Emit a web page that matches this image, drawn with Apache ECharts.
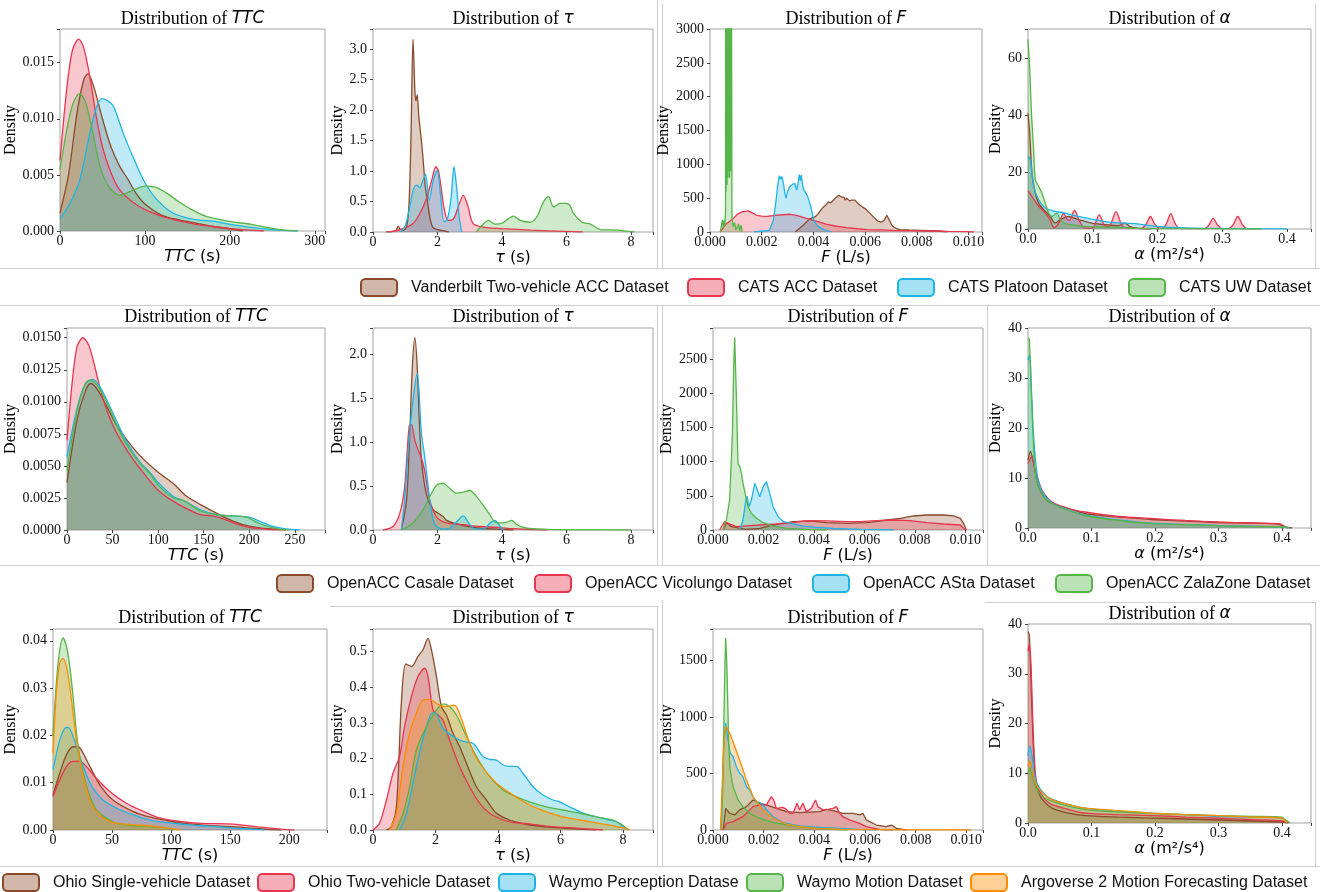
<!DOCTYPE html>
<html>
<head>
<meta charset="utf-8">
<script src="https://cdn.jsdelivr.net/npm/echarts@6.0.0/dist/echarts.min.js"></script>
<style>
  html, body { margin: 0; padding: 0; background: #fff; }
  #chart { width: 1325px; height: 892px; }
</style>
</head>
<body>
<div id="chart"></div>
<script>
// ---- dataset names per row (legend order) ----
const row1Names = ['Vanderbilt Two-vehicle ACC Dataset', 'CATS ACC Dataset', 'CATS Platoon Dataset', 'CATS UW Dataset']
const row2Names = ['OpenACC Casale Dataset', 'OpenACC Vicolungo Dataset', 'OpenACC ASta Dataset', 'OpenACC ZalaZone Dataset']
const row3Names = ['Ohio Single-vehicle Dataset', 'Ohio Two-vehicle Dataset', 'Waymo Perception Datase', 'Waymo Motion Dataset', 'Argoverse 2 Motion Forecasting Dataset']

// ---- row 1: Vanderbilt / CATS ----
const vandTTC = [[0,0.0016],[10,0.005],[20,0.0105],[28,0.0135],[33,0.0140],[40,0.0128],[50,0.0100],[60,0.0075],[70,0.0058],[80,0.0046],[90,0.0033],[100,0.0024],[120,0.0014],[140,0.0010],[160,0.0007],[180,0.0004],[200,0.0002],[215,0]]
const catsAccTTC = [[0,0.0063],[5,0.0105],[10,0.0140],[15,0.0162],[22,0.0171],[28,0.0163],[35,0.0138],[42,0.0105],[50,0.0075],[60,0.0052],[70,0.0037],[85,0.0026],[100,0.0019],[120,0.0013],[140,0.0009],[160,0.0006],[180,0.0004],[200,0.0002],[220,0.0001],[240,0]]
const catsPlatTTC = [[0,0.0011],[12,0.0025],[23.5,0.0046],[35,0.0087],[42,0.0108],[49,0.0118],[56,0.0116],[63,0.0111],[74.5,0.0087],[86,0.0066],[100,0.0043],[114,0.0028],[133,0.0016],[157,0.00104],[184,0.00084],[204,0.00054],[235,0.00024],[267,0.00003],[280,0]]
const catsUwTTC = [[0,0.0055],[8,0.0090],[15,0.0113],[23,0.01225],[30,0.0115],[38,0.0090],[47,0.0058],[57,0.0040],[70,0.0032],[85,0.0036],[100,0.0040],[112,0.0039],[125,0.0034],[140,0.0026],[155,0.0019],[172,0.0013],[190,0.0010],[205,0.0008],[225,0.0006],[245,0.0003],[262,0.0001],[280,0]]

const vandTau = [[0.4,0],[0.7,0.02],[0.78,0.09],[0.85,0.04],[0.95,0.03],[1.05,0.1],[1.12,0.5],[1.18,1.6],[1.24,3.16],[1.3,2.3],[1.33,2.15],[1.37,2.25],[1.42,1.9],[1.5,1.5],[1.56,1.15],[1.62,0.75],[1.69,0.5],[1.76,0.25],[1.85,0.08],[2.0,0.04],[2.2,0.02],[2.35,0]]
const catsAccTau = [[0.5,0],[0.9,0.05],[1.24,0.14],[1.45,0.3],[1.66,0.55],[1.82,0.85],[1.95,1.07],[2.03,1.0],[2.12,0.7],[2.2,0.4],[2.33,0.19],[2.5,0.22],[2.64,0.41],[2.8,0.6],[2.95,0.41],[3.1,0.14],[3.4,0.08],[4.0,0.055],[4.9,0.03],[5.9,0.01],[6.5,0]]
const catsPlatTau = [[0.85,0],[1.0,0.1],[1.14,0.41],[1.25,0.7],[1.35,0.77],[1.45,0.73],[1.55,0.85],[1.63,0.95],[1.74,0.52],[1.87,0.85],[1.99,1.01],[2.09,0.63],[2.2,0.17],[2.3,0.2],[2.42,0.55],[2.51,1.07],[2.59,0.74],[2.67,0.25],[2.75,0]]
const catsUwTau = [[3.2,0],[3.4,0.12],[3.58,0.19],[3.78,0.13],[3.99,0.14],[4.2,0.22],[4.35,0.26],[4.56,0.19],[4.87,0.16],[5.08,0.25],[5.28,0.49],[5.44,0.58],[5.6,0.41],[5.8,0.47],[6.0,0.47],[6.1,0.44],[6.22,0.3],[6.48,0.16],[6.74,0.13],[7.05,0.04],[7.56,0.03],[8.1,0]]

const vandF = [[0.0033,0],[0.0036,99],[0.00387,198],[0.00406,222],[0.00419,272],[0.0043,330],[0.00439,371],[0.00448,400],[0.00458,445],[0.00467,430],[0.00477,470],[0.00484,500],[0.0049,519],[0.00497,540],[0.00503,568],[0.00509,520],[0.00514,494],[0.00519,510],[0.00523,470],[0.00529,500],[0.00535,494],[0.0054,460],[0.00548,470],[0.00555,490],[0.00561,470],[0.0057,430],[0.00581,395],[0.0059,370],[0.006,346],[0.0061,310],[0.0062,272],[0.0063,230],[0.00639,198],[0.00648,165],[0.00658,148],[0.00666,150],[0.00674,173],[0.00684,247],[0.00694,173],[0.00702,110],[0.0071,74],[0.00722,50],[0.00735,35],[0.0077,30],[0.00813,25],[0.0089,15],[0.00916,0]]
const catsAccF = [[0.00039,0],[0.0006,110],[0.0009,198],[0.00105,260],[0.00123,297],[0.00135,305],[0.00148,311],[0.0016,290],[0.0018,247],[0.002,235],[0.0022,232],[0.0024,240],[0.00252,247],[0.0028,255],[0.0031,262],[0.0033,250],[0.00348,232],[0.0037,205],[0.004,173],[0.0043,140],[0.00452,114],[0.0049,85],[0.00529,64],[0.0057,48],[0.00606,35],[0.0066,30],[0.0071,25],[0.0077,20],[0.0084,15],[0.0092,8],[0.0099,5],[0.0102,0]]
const catsPlatF = [[0.0017,0],[0.0023,25],[0.00245,170],[0.00255,450],[0.00262,700],[0.00268,830],[0.00273,780],[0.00278,820],[0.00284,720],[0.0029,560],[0.00294,500],[0.003,600],[0.00307,660],[0.00312,640],[0.00318,700],[0.00322,680],[0.00328,720],[0.00335,620],[0.0034,700],[0.00345,850],[0.00349,760],[0.00353,840],[0.00358,700],[0.00363,620],[0.00368,600],[0.00375,550],[0.0038,500],[0.0039,370],[0.00397,250],[0.00403,150],[0.0042,75],[0.0044,35],[0.0047,0]]
const catsUwF = [[0.0004,0],[0.00045,120],[0.00048,180],[0.00051,60],[0.00054,170],[0.00057,90],[0.0006,300],[0.00061,4000],[0.00062,600],[0.00063,4000],[0.00064,800],[0.00065,4000],[0.00066,700],[0.00067,4000],[0.00068,900],[0.00069,4000],[0.0007,800],[0.00071,4000],[0.00072,1000],[0.00073,4000],[0.00074,900],[0.00075,4000],[0.00076,800],[0.00077,4000],[0.00078,1200],[0.00079,4000],[0.0008,900],[0.00081,4000],[0.00082,1500],[0.00083,4000],[0.00085,200],[0.0009,80],[0.00095,140],[0.001,30],[0.00105,40],[0.0011,120],[0.00115,20],[0.0012,100],[0.00125,0]]

const vandAlpha = [[0,40.7],[0.0026,33.7],[0.0062,19.6],[0.0113,12.6],[0.0164,9.1],[0.024,6.8],[0.0344,4.4],[0.042,2.1],[0.05,3.3],[0.0626,4.4],[0.078,3.3],[0.0985,2.1],[0.119,1.5],[0.14,1.2],[0.15,2.1],[0.157,0.9],[0.17,0.2],[0.19,0]]
const catsAccAlpha = [[0,13.5],[0.006,11.5],[0.0164,8],[0.027,5.6],[0.034,3.3],[0.04,0.4],[0.046,1.5],[0.05,3.5],[0.055,5.4],[0.06,3.5],[0.064,3],[0.0718,6.5],[0.08,2.5],[0.088,0.3],[0.1,0.5],[0.11,5],[0.12,0.8],[0.126,1.0],[0.136,6.1],[0.146,1.0],[0.16,0.2],[0.175,0.2],[0.182,1.6],[0.189,4.4],[0.196,1.6],[0.203,0.3],[0.209,0.4],[0.214,2.0],[0.2205,5.4],[0.227,2.0],[0.234,0.2],[0.273,0.1],[0.279,1.3],[0.286,3.7],[0.293,1.3],[0.3,0.1],[0.31,0.1],[0.317,1.6],[0.324,4.4],[0.331,1.6],[0.338,0.1],[0.35,0]]
const catsPlatAlpha = [[0,25.5],[0.0036,24.3],[0.0087,15],[0.0164,10.3],[0.0267,7.4],[0.037,6.5],[0.057,5.6],[0.078,4.4],[0.098,3.5],[0.129,2.3],[0.165,1.9],[0.2,0.9],[0.242,0.35],[0.293,0.2],[0.345,0.1],[0.4,0]]
const catsUwAlpha = [[0,66.7],[0.0026,57],[0.0051,41.9],[0.0087,27.8],[0.0113,17.3],[0.0164,15],[0.0215,12.6],[0.0267,9.1],[0.0318,5.6],[0.0369,4.4],[0.0446,5.6],[0.0497,3.3],[0.0574,1.9],[0.0677,1.5],[0.0882,0.9],[0.1138,0.7],[0.15,0.5],[0.165,0.2],[0.25,0.1],[0.36,0]]

// ---- row 2: OpenACC ----
const casaleTTC = [[0,0.0037],[11,0.0086],[20,0.0108],[26,0.01143],[33,0.0110],[44,0.0096],[55,0.0081],[66,0.0070],[80,0.0058],[100,0.0045],[117,0.0036],[130,0.0027],[146,0.0020],[167,0.0012],[182,0.0007],[200,0.0003],[220,0.0001],[240,0]]
const vicoTTC = [[0,0.0070],[5.5,0.0114],[11,0.0143],[17.5,0.0150],[24,0.0144],[31,0.0126],[38,0.0106],[46,0.0089],[55,0.0075],[66,0.0062],[80,0.0048],[100,0.0031],[120,0.0021],[146,0.0012],[160,0.0011],[170,0.0009],[185,0.0005],[200,0.0002],[220,0.00005],[235,0]]
const astaTTC = [[0,0.0057],[11,0.0095],[20,0.0114],[28,0.01175],[35,0.0113],[44,0.0101],[55,0.0084],[66,0.0068],[80,0.0053],[91,0.0045],[100,0.0037],[117,0.0026],[128,0.0023],[146,0.0016],[164,0.0012],[182,0.0011],[200,0.0010],[211,0.0007],[225,0.0003],[240,0.00008],[255,0]]
const zalaTTC = [[0,0.0046],[11,0.0093],[20,0.0114],[25.5,0.0117],[33,0.0113],[44,0.0099],[55,0.0081],[66,0.0066],[80,0.0052],[91,0.0044],[100,0.0035],[117,0.0025],[128,0.0023],[146,0.0015],[164,0.0012],[182,0.0011],[197,0.0010],[211,0.0005],[230,0.0001],[244,0]]

const casaleTau = [[0.88,0],[1.04,0.34],[1.14,1.1],[1.22,1.86],[1.3,2.19],[1.37,1.86],[1.43,1.29],[1.5,0.8],[1.61,0.49],[1.71,0.34],[1.87,0.23],[2.02,0.19],[2.18,0.15],[2.28,0.11],[2.49,0.08],[2.8,0.05],[3.32,0.02],[3.83,0.01],[4.35,0]]
const vicoTau = [[0.31,0],[0.62,0.04],[0.83,0.19],[0.98,0.49],[1.12,1.18],[1.19,1.2],[1.3,1.02],[1.4,0.91],[1.5,0.82],[1.61,0.66],[1.76,0.34],[1.97,0.15],[2.28,0.08],[2.8,0.06],[3.32,0.04],[3.83,0.03],[4.35,0.015],[4.87,0.004],[5.4,0]]
const astaTau = [[0.88,0],[0.98,0.34],[1.09,0.91],[1.24,1.48],[1.37,1.78],[1.43,1.56],[1.5,1.1],[1.59,0.87],[1.66,0.65],[1.76,0.34],[1.87,0.11],[1.97,0.04],[2.18,0.01],[2.38,0.02],[2.59,0.09],[2.8,0.16],[2.95,0.09],[3.11,0.02],[3.42,0.01],[3.63,0.08],[3.78,0.11],[3.94,0.04],[4.04,0]]
const zalaTau = [[0.88,0],[1.24,0.08],[1.55,0.23],[1.76,0.38],[1.97,0.51],[2.18,0.53],[2.33,0.49],[2.59,0.42],[2.8,0.43],[3.0,0.45],[3.21,0.38],[3.42,0.28],[3.63,0.17],[3.78,0.09],[3.94,0.08],[4.15,0.09],[4.3,0.11],[4.46,0.06],[4.77,0.02],[5.4,0.008],[6.4,0.002],[8.0,0]]

const casaleF = [[0.0004,0],[0.00053,107],[0.00073,49],[0.0013,10],[0.00185,24],[0.00238,73],[0.00318,122],[0.00384,132],[0.0045,107],[0.0053,97],[0.0061,107],[0.00689,146],[0.00742,171],[0.00795,205],[0.00848,219],[0.00914,219],[0.00954,205],[0.0098,171],[0.00993,97],[0.01004,0]]
const vicoF = [[0.00026,0],[0.00046,122],[0.0006,97],[0.00093,49],[0.00185,73],[0.00252,88],[0.00318,107],[0.00371,136],[0.0045,132],[0.0053,122],[0.00583,122],[0.00649,136],[0.00715,146],[0.00781,136],[0.00848,107],[0.00914,88],[0.0098,73],[0.01,0]]
const astaF = [[0.00106,0],[0.00119,146],[0.0013,439],[0.00135,497],[0.00143,341],[0.00152,439],[0.00166,682],[0.00172,658],[0.00185,487],[0.00199,633],[0.00212,707],[0.00225,536],[0.00238,341],[0.00258,195],[0.00278,122],[0.00318,88],[0.00358,58],[0.00411,39],[0.00477,24],[0.00583,10],[0.00715,0]]
const zalaF = [[0.0004,0],[0.00046,97],[0.00053,146],[0.00066,439],[0.00077,1413],[0.00082,2388],[0.00086,2817],[0.00093,1900],[0.00099,975],[0.00106,926],[0.00113,828],[0.00119,682],[0.0013,487],[0.00139,341],[0.00152,244],[0.00172,171],[0.00199,107],[0.00238,58],[0.00291,24],[0.00371,10],[0.0045,0]]

const casaleAlpha = [[0,13.6],[0.0037,15.3],[0.0089,12.9],[0.0168,8.2],[0.0273,5.9],[0.0378,4.9],[0.064,3.9],[0.09,2.9],[0.1165,2.5],[0.143,2.2],[0.195,1.7],[0.248,1.4],[0.3,1.1],[0.353,1.0],[0.395,0.74],[0.405,0.2],[0.416,0]]
const vicoAlpha = [[0,12.9],[0.0052,14.2],[0.0115,11.6],[0.022,7.6],[0.0378,5.2],[0.064,3.9],[0.09,3.2],[0.143,2.3],[0.195,1.9],[0.248,1.5],[0.3,1.2],[0.353,1.0],[0.395,0.87],[0.408,0]]
const astaAlpha = [[0,33.6],[0.0026,34.6],[0.0052,28.3],[0.0089,18.3],[0.0142,10.9],[0.0194,8.0],[0.0273,6.3],[0.0378,5.0],[0.064,3.6],[0.09,2.6],[0.143,1.6],[0.195,0.95],[0.248,0.72],[0.3,0.5],[0.353,0.36],[0.4,0.22],[0.412,0]]
const zalaAlpha = [[0,38],[0.0021,37.7],[0.0047,29],[0.0079,18.9],[0.0115,10.9],[0.0168,8.2],[0.0247,6.2],[0.0378,4.9],[0.064,3.5],[0.09,2.5],[0.143,1.5],[0.195,0.87],[0.248,0.67],[0.3,0.47],[0.353,0.33],[0.4,0.2],[0.41,0]]

// ---- row 3: Ohio / Waymo / Argoverse ----
const ohio1TTC = [[0,0.0074],[5.7,0.012],[11.4,0.0159],[17,0.0176],[21.3,0.0176],[25.6,0.0162],[31.3,0.0134],[39.8,0.0095],[51,0.0063],[68,0.0039],[82.4,0.0027],[96.6,0.002],[111,0.0014],[125,0.0011],[139,0.00085],[153,0.0007],[168,0.0004],[182,0.00014],[193,0]]
const ohio2TTC = [[0,0.0071],[5.7,0.0106],[11.4,0.0134],[17,0.0145],[22.7,0.0145],[28.4,0.0134],[36.9,0.0109],[48.3,0.0081],[62.5,0.0056],[76.7,0.0039],[91,0.0025],[108,0.0018],[125,0.0014],[148,0.0013],[159,0.0011],[176,0.0006],[193,0.0002],[204.5,0]]
const waymoPTTC = [[0,0.0127],[5.7,0.019],[9.9,0.0215],[12.8,0.0217],[17,0.0198],[22.7,0.0155],[28.4,0.0116],[34,0.0088],[42.6,0.0063],[54,0.0046],[68,0.0032],[82.4,0.0021],[96.6,0.00155],[111,0.0012],[125,0.0009],[139,0.0007],[153,0.0004],[168,0.0002],[179,0]]
const waymoMTTC = [[0,0.0198],[2.8,0.031],[5.7,0.0381],[8.5,0.0406],[11.4,0.0388],[14.2,0.0346],[17,0.0282],[19.9,0.0205],[22.7,0.0155],[27,0.0106],[31.3,0.0071],[36.9,0.0042],[45.5,0.0025],[54,0.0014],[68,0.0009],[82.4,0.0007],[91,0.0006],[96.6,0.0003],[102,0]]
const argoTTC = [[0,0.0162],[2.8,0.0289],[5.7,0.0353],[8.5,0.0363],[11.4,0.0346],[14.2,0.0303],[17,0.0247],[19.9,0.019],[22.7,0.0148],[27,0.0099],[31.3,0.0063],[36.9,0.0039],[45.5,0.0021],[54,0.0014],[68,0.0011],[82.4,0.00085],[96.6,0.0004],[108,0]]

const ohio1Tau = [[0.43,0],[0.59,0.01],[0.75,0.065],[0.91,0.36],[1.05,0.465],[1.23,0.458],[1.44,0.486],[1.6,0.505],[1.76,0.537],[1.87,0.505],[2.03,0.43],[2.19,0.346],[2.35,0.322],[2.56,0.271],[2.77,0.234],[2.99,0.187],[3.31,0.121],[3.63,0.084],[3.95,0.047],[4.37,0.028],[4.69,0.02],[5.01,0.014],[5.55,0.009],[6.08,0.0056],[6.72,0.002],[7.15,0]]
const ohio2Tau = [[0,0],[0.21,0.019],[0.43,0.084],[0.64,0.159],[0.85,0.206],[1.01,0.29],[1.23,0.374],[1.44,0.43],[1.65,0.453],[1.76,0.43],[1.92,0.336],[2.08,0.322],[2.24,0.308],[2.45,0.252],[2.77,0.178],[3.09,0.121],[3.41,0.075],[3.73,0.047],[4.16,0.028],[4.59,0.02],[5.01,0.017],[5.55,0.011],[6.08,0.0075],[6.72,0.0037],[7.36,0]]
const waymoPTau = [[0.85,0],[1.07,0.047],[1.39,0.178],[1.71,0.29],[1.9,0.328],[2.03,0.325],[2.24,0.285],[2.56,0.262],[2.88,0.248],[3.2,0.243],[3.52,0.206],[3.73,0.198],[3.95,0.196],[4.16,0.182],[4.37,0.178],[4.59,0.178],[4.8,0.159],[5.12,0.121],[5.44,0.098],[5.76,0.084],[5.97,0.079],[6.29,0.065],[6.72,0.047],[7.15,0.037],[7.57,0.028],[7.79,0.023],[8.0,0.009],[8.16,0]]
const waymoMTau = [[0.75,0],[0.96,0.047],[1.17,0.121],[1.39,0.224],[1.71,0.29],[2.03,0.336],[2.27,0.353],[2.45,0.346],[2.67,0.322],[2.99,0.262],[3.31,0.206],[3.73,0.15],[4.16,0.112],[4.59,0.093],[5.01,0.079],[5.55,0.065],[6.08,0.056],[6.61,0.047],[7.15,0.037],[7.68,0.028],[7.89,0.019],[8.11,0.005],[8.21,0]]
const argoTau = [[0.53,0],[0.75,0.047],[0.96,0.178],[1.17,0.271],[1.39,0.327],[1.6,0.364],[1.81,0.366],[2.03,0.355],[2.24,0.346],[2.4,0.346],[2.56,0.35],[2.67,0.346],[2.88,0.299],[3.09,0.243],[3.41,0.187],[3.95,0.131],[4.48,0.098],[5.01,0.07],[5.55,0.051],[6.08,0.037],[6.61,0.028],[7.15,0.02],[7.68,0.012],[8.0,0.0065],[8.21,0]]

const ohio1F = [[0.0004,0],[0.0005,192],[0.00066,148],[0.00086,133],[0.00105,178],[0.00132,207],[0.00158,266],[0.00184,237],[0.00211,222],[0.0025,192],[0.0029,163],[0.00342,154],[0.00421,163],[0.00447,183],[0.00474,172],[0.00513,148],[0.00553,148],[0.00579,133],[0.00592,148],[0.00605,89],[0.00645,44],[0.00684,30],[0.00704,44],[0.00724,15],[0.00763,0]]
const ohio2F = [[0.0004,0],[0.00053,59],[0.00079,74],[0.00118,118],[0.00158,207],[0.00184,222],[0.00211,222],[0.0023,296],[0.0024,266],[0.0025,192],[0.00276,201],[0.0029,183],[0.00303,148],[0.00316,148],[0.00332,237],[0.00342,178],[0.00355,237],[0.00368,163],[0.00388,192],[0.00405,266],[0.00414,207],[0.00434,178],[0.00454,183],[0.00474,192],[0.00487,207],[0.005,148],[0.00513,118],[0.00539,89],[0.00579,59],[0.00605,30],[0.00658,6],[0.0071,0]]
const waymoPF = [[0.00033,0],[0.00042,710],[0.0005,947],[0.00059,799],[0.00068,681],[0.00079,651],[0.00092,562],[0.00105,503],[0.00118,473],[0.00132,385],[0.00145,355],[0.00158,296],[0.00171,252],[0.00184,243],[0.00197,222],[0.00211,178],[0.00237,118],[0.00276,65],[0.00342,36],[0.00421,24],[0.005,15],[0.00579,6],[0.00645,0]]
const waymoMF = [[0.0003,0],[0.00037,266],[0.00042,858],[0.00047,1450],[0.0005,1701],[0.00055,1450],[0.00061,858],[0.00066,562],[0.00079,385],[0.00099,266],[0.00118,207],[0.00145,148],[0.00184,104],[0.00237,65],[0.00316,36],[0.00382,18],[0.00474,6],[0.0053,0]]
const argoF = [[0.0003,0],[0.00039,562],[0.00046,858],[0.00053,917],[0.00066,858],[0.00086,740],[0.00105,621],[0.00132,444],[0.00158,296],[0.00197,178],[0.00237,104],[0.00289,53],[0.00342,30],[0.00408,15],[0.00513,6],[0.0075,2],[0.0102,0]]

const ohio1Alpha = [[0,38.5],[0.0021,37.8],[0.0047,28.4],[0.0079,16.9],[0.0115,8.8],[0.0168,6.1],[0.0247,4.4],[0.0378,3.0],[0.064,2.0],[0.09,1.5],[0.143,1.2],[0.195,1.0],[0.248,0.8],[0.3,0.6],[0.353,0.4],[0.4,0.2],[0.41,0]]
const ohio2Alpha = [[0,34.5],[0.0021,36.1],[0.0047,31.8],[0.0079,19.6],[0.0115,10.1],[0.0168,6.8],[0.0273,4.7],[0.0378,3.7],[0.064,2.7],[0.09,2.0],[0.143,1.7],[0.195,1.5],[0.248,1.2],[0.3,0.95],[0.353,0.68],[0.4,0.4],[0.41,0]]
const waymoPAlpha = [[0,13.5],[0.0026,15.5],[0.0063,13.5],[0.0115,8.8],[0.0194,6.8],[0.0325,5.1],[0.0535,4.1],[0.09,3.0],[0.143,2.4],[0.195,2.0],[0.248,1.7],[0.3,1.35],[0.353,1.2],[0.4,1.0],[0.408,0]]
const waymoMAlpha = [[0,10.1],[0.0026,11.1],[0.0063,9.5],[0.0115,7.4],[0.0220,5.4],[0.0378,4.4],[0.064,3.4],[0.09,2.7],[0.143,2.2],[0.195,1.9],[0.248,1.7],[0.3,1.5],[0.353,1.35],[0.4,1.2],[0.405,0.68],[0.413,0]]
const argoAlpha = [[0,11.5],[0.0026,12.5],[0.0063,10.8],[0.0115,8.1],[0.022,6.1],[0.0378,4.7],[0.064,3.7],[0.09,3.0],[0.143,2.5],[0.195,2.0],[0.248,1.7],[0.3,1.5],[0.353,1.2],[0.4,1.0],[0.408,0]]

// ---- styling ----
const LINE = { brown: '#8B4A2B', red: '#E8364F', cyan: '#1EB4E6', green: '#55B548', orange: '#FF8C00' }
const rowColors = [
  [LINE.brown, LINE.red, LINE.cyan, LINE.green],
  [LINE.brown, LINE.red, LINE.cyan, LINE.green],
  [LINE.brown, LINE.red, LINE.cyan, LINE.green, LINE.orange],
]
const rowNames = [row1Names, row2Names, row3Names]
const FILL_ALPHA = 0.4

function rgba(hex, a) {
  const n = parseInt(hex.slice(1), 16)
  return `rgba(${n >> 16},${(n >> 8) & 255},${n & 255},${a})`
}

function tickFmt(step, dec) {
  return (v) => {
    const k = v / step
    return Math.abs(k - Math.round(k)) < 1e-6 ? v.toFixed(dec) : ''
  }
}

const SYM = { ttc: 'TTC', tau: 'τ', f: 'F', alpha: 'α' }
const UNIT = { ttc: ' (s)', tau: ' (s)', f: ' (L/s)', alpha: ' (m²/s⁴)' }

// plot boxes [left, top, right, bottom]
const panels = [
  { row: 0, kind: 'ttc', box: [60, 29, 325, 231], x: [312, 100, 0], y: [0.018, 0.005, 3], data: [vandTTC, catsAccTTC, catsPlatTTC, catsUwTTC] },
  { row: 0, kind: 'tau', box: [373, 29, 653, 232], x: [8.68, 2, 0], y: [3.33, 0.5, 1], data: [vandTau, catsAccTau, catsPlatTau, catsUwTau] },
  { row: 0, kind: 'f', box: [710, 29, 982, 232], x: [0.01052, 0.002, 3], y: [3000, 500, 0], data: [vandF, catsAccF, catsPlatF, catsUwF] },
  { row: 0, kind: 'alpha', box: [1028, 29, 1311, 229], x: [0.437, 0.1, 1], y: [70.3, 20, 0], data: [vandAlpha, catsAccAlpha, catsPlatAlpha, catsUwAlpha] },
  { row: 1, kind: 'ttc', box: [67, 328, 325, 530], x: [283, 50, 0], y: [0.01576, 0.0025, 4], data: [casaleTTC, vicoTTC, astaTTC, zalaTTC] },
  { row: 1, kind: 'tau', box: [373, 328, 653, 530], x: [8.68, 2, 0], y: [2.30, 0.5, 1], data: [casaleTau, vicoTau, astaTau, zalaTau] },
  { row: 1, kind: 'f', box: [713, 328, 983, 530], x: [0.0107, 0.002, 3], y: [2953, 500, 0], data: [casaleF, vicoF, astaF, zalaF] },
  { row: 1, kind: 'alpha', box: [1028, 328, 1311, 528], x: [0.4457, 0.1, 1], y: [40, 10, 0], data: [casaleAlpha, vicoAlpha, astaAlpha, zalaAlpha] },
  { row: 2, kind: 'ttc', box: [53, 629, 327, 830], x: [232, 50, 0], y: [0.0425, 0.01, 2], data: [ohio1TTC, ohio2TTC, waymoPTTC, waymoMTTC, argoTTC] },
  { row: 2, kind: 'tau', box: [373, 629, 653, 830], x: [8.96, 2, 0], y: [0.563, 0.1, 1], data: [ohio1Tau, ohio2Tau, waymoPTau, waymoMTau, argoTau] },
  { row: 2, kind: 'f', box: [713, 629, 983, 830], x: [0.01066, 0.002, 3], y: [1781, 500, 0], data: [ohio1F, ohio2F, waymoPF, waymoMF, argoF] },
  { row: 2, kind: 'alpha', box: [1028, 624, 1311, 823], x: [0.4457, 0.1, 1], y: [40, 10, 0], data: [ohio1Alpha, ohio2Alpha, waymoPAlpha, waymoMAlpha, argoAlpha] },
]
const densityCx = [15, 343, 673, 1000]
const titleCy = [20, 318, 619]
const xNameCy = [254, 553, 852]

const serif = 'Liberation Serif'
const sans = 'DejaVu Sans'
const NAME_SIZE = 16
const mathRich = (size) => ({
  v: { fontFamily: sans, fontStyle: 'italic', fontWeight: 'normal', fontSize: size, color: '#000' },
  u: { fontFamily: sans, fontWeight: 'normal', fontSize: size, color: '#000' },
})

const grid = [], xAxis = [], yAxis = [], title = [], series = []
panels.forEach((p, i) => {
  const [l, t, r, b] = p.box
  const col = i % 4
  grid.push({ left: l, top: t, width: r - l, height: b - t, show: true, borderColor: '#a3a3a3', borderWidth: 1, backgroundColor: 'transparent' })
  const tcy = (p.row === 2 && col === 3) ? 615 : titleCy[p.row]
  title.push({
    text: `{n|Distribution of }{v|${SYM[p.kind]}}`,
    left: (l + r) / 2, top: tcy - 10, textAlign: 'center', padding: 0,
    textStyle: {
      fontWeight: 'normal',
      rich: {
        n: { fontFamily: serif, fontWeight: 'normal', fontSize: 18, color: '#000' },
        v: { fontFamily: sans, fontStyle: 'italic', fontWeight: 'normal', fontSize: 17, color: '#000' },
      },
    },
  })
  const xcy = (p.row === 2 && col === 3) ? 848 : xNameCy[p.row]
  xAxis.push({
    gridIndex: i, type: 'value', min: 0, max: p.x[0], interval: p.x[1],
    axisLine: { show: false }, splitLine: { show: false },
    axisTick: { show: true, length: 3, lineStyle: { color: '#444' } },
    axisLabel: { fontFamily: serif, fontSize: 14, color: '#111', margin: 3, formatter: tickFmt(p.x[1], p.x[2]) },
    name: `{v|${SYM[p.kind]}}{u|${UNIT[p.kind]}}`, nameLocation: 'middle', nameGap: xcy - b - NAME_SIZE / 2,
    nameTextStyle: { rich: mathRich(NAME_SIZE) },
  })
  yAxis.push({
    gridIndex: i, type: 'value', min: 0, max: p.y[0], interval: p.y[1],
    axisLine: { show: false }, splitLine: { show: false },
    axisTick: { show: true, length: 3, lineStyle: { color: '#444' } },
    axisLabel: { fontFamily: serif, fontSize: 14, color: '#111', margin: 6, formatter: tickFmt(p.y[1], p.y[2]) },
    name: 'Density', nameLocation: 'middle', nameGap: l - densityCx[col] - 8,
    nameTextStyle: { fontFamily: serif, fontSize: 16, color: '#000' },
  })
  p.data.forEach((d, k) => {
    const c = rowColors[p.row][k]
    series.push({
      type: 'line', name: rowNames[p.row][k], xAxisIndex: i, yAxisIndex: i, data: d,
      showSymbol: false, symbol: 'none', smooth: p.kind === 'f' ? false : 0.3,
      lineStyle: { color: c, width: 1.3 }, itemStyle: { color: c },
      areaStyle: { color: rgba(c, FILL_ALPHA) }, clip: true, emphasis: { disabled: true }, silent: true,
    })
  })
})

// legends: one component per item, positioned where each entry sits
const legendSpots = [
  { y: 287, xs: [360, 687, 897, 1128] },
  { y: 583, xs: [276, 534, 812, 1055] },
  { y: 882, xs: [2, 257, 498, 746, 970] },
]
const legend = []
legendSpots.forEach((s, row) => {
  s.xs.forEach((x, k) => {
    const c = rowColors[row][k]
    legend.push({
      left: x, top: s.y - 9, padding: 0, itemWidth: 36, itemHeight: 17, selectedMode: false,
      textStyle: { fontFamily: 'Liberation Sans', fontSize: 16, color: '#111', padding: [0, 0, 0, 9] },
      data: [{ name: rowNames[row][k], icon: 'roundRect', itemStyle: { color: rgba(c, FILL_ALPHA), borderColor: c, borderWidth: 2 } }],
    })
  })
})

// light frame lines around the composed sub-figures
const frameColor = '#cfcfcf'
const seg = (x1, y1, x2, y2) => ({ type: 'line', silent: true, shape: { x1, y1, x2, y2 }, style: { stroke: frameColor, lineWidth: 1 } })
const graphic = [
  seg(0, 268.5, 1320, 268.5),
  seg(657.5, 0, 657.5, 268), seg(662.5, 4, 662.5, 268), seg(1315.5, 4, 1315.5, 268),
  seg(0, 305.5, 1320, 305.5),
  seg(657.5, 306, 657.5, 565), seg(662.5, 306, 662.5, 565), seg(987.5, 306, 987.5, 565),
  seg(0, 565.5, 1320, 565.5),
  seg(330, 606.5, 657.5, 606.5), seg(657.5, 606, 657.5, 866), seg(662.5, 600, 662.5, 866),
  seg(985, 602.5, 1315.5, 602.5), seg(1315.5, 602, 1315.5, 866),
  seg(0, 866.5, 1320, 866.5),
]

const chart = echarts.init(document.getElementById('chart'), null, { renderer: 'canvas' })
chart.setOption({
  animation: false,
  backgroundColor: '#fff',
  title, legend, grid, xAxis, yAxis, series, graphic,
})
</script>
</body>
</html>
